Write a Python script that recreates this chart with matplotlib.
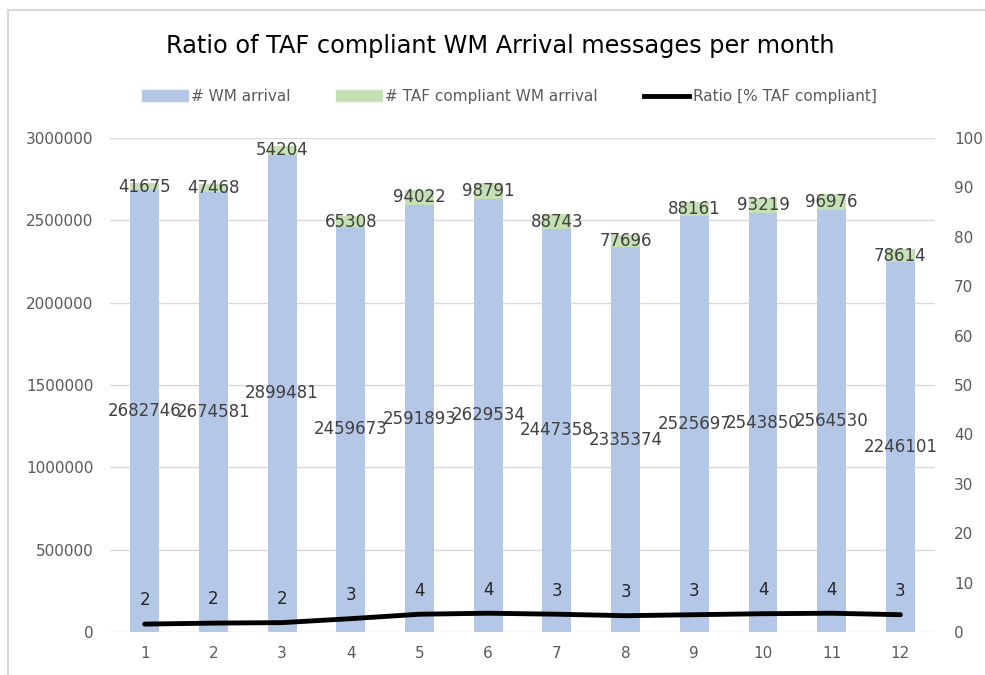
import matplotlib.pyplot as plt
from matplotlib.patches import Rectangle
from matplotlib.lines import Line2D
from matplotlib.ticker import StrMethodFormatter
import numpy as np

months = [1, 2, 3, 4, 5, 6, 7, 8, 9, 10, 11, 12]
wm_arrival = [2682746, 2674581, 2899481, 2459673, 2591893, 2629534,
              2447358, 2335374, 2525697, 2543850, 2564530, 2246101]
taf_compliant = [41675, 47468, 54204, 65308, 94022, 98791,
                 88743, 77696, 88161, 93219, 96976, 78614]
ratio = [1.6, 1.8, 1.9, 2.7, 3.6, 3.8, 3.6, 3.3, 3.5, 3.7, 3.8, 3.5]
ratio_labels = ['2', '2', '2', '3', '4', '4', '3', '3', '3', '4', '4', '3']

blue = '#B4C7E7'
green = '#C5E0B4'
label_col = '#404040'
tick_col = '#595959'

fig = plt.figure(figsize=(9.85, 6.75), dpi=100)
ax = fig.add_axes([0.112, 0.0637, 0.837, 0.7319])
ax2 = ax.twinx()

x = np.array(months)
ax.bar(x, wm_arrival, width=0.42, color=blue, zorder=2)
ax.bar(x, taf_compliant, width=0.42, bottom=wm_arrival, color=green, zorder=2)

for xi, w, t in zip(x, wm_arrival, taf_compliant):
    ax.text(xi, w / 2, str(w), ha='center', va='center', fontsize=12, color=label_col, zorder=3)
    ax.text(xi, w + t / 2, str(t), ha='center', va='center', fontsize=12, color=label_col, zorder=3)

ax.set_xlim(0.5, 12.5)
ax.set_ylim(0, 3000000)
ax.set_yticks(range(0, 3000001, 500000))
ax.yaxis.set_major_formatter(StrMethodFormatter('{x:.0f}'))
ax.set_xticks(months)
ax.grid(axis='y', color='#D9D9D9', linewidth=1, zorder=0)
ax.set_axisbelow(True)

ax2.plot(x, ratio, color='black', linewidth=3.5, solid_capstyle='round', zorder=4)
for xi, r, lab in zip(x, ratio, ratio_labels):
    ax2.annotate(lab, (xi, r), xytext=(0, 17), textcoords='offset points',
                 ha='center', va='center', fontsize=12, color='#262626')
ax2.set_ylim(0, 100)
ax2.set_yticks(range(0, 101, 10))

for a in (ax, ax2):
    for s in a.spines.values():
        s.set_visible(False)
    a.tick_params(length=0, labelsize=11, labelcolor=tick_col)
ax.tick_params(axis='y', pad=12)
ax.tick_params(axis='x', pad=10)
ax2.tick_params(axis='y', pad=14)
ax.set_zorder(1)
ax.patch.set_visible(False)
ax2.set_zorder(2)
ax2.patch.set_visible(False)

fig.text(0.508, 0.932, 'Ratio of TAF compliant WM Arrival messages per month',
         ha='center', va='center', fontsize=17.3, color='black')

handles = [Rectangle((0, 0), 1, 1, color=blue),
           Rectangle((0, 0), 1, 1, color=green),
           Line2D([0], [0], color='black', linewidth=3.5)]
fig.legend(handles, ['# WM arrival', '# TAF compliant WM arrival', 'Ratio [% TAF compliant]'],
           loc='center', bbox_to_anchor=(0.517, 0.857), ncol=3, frameon=False,
           fontsize=11, labelcolor=tick_col, handlelength=3, handletextpad=0.2,
           columnspacing=3)

fig.patches.append(Rectangle((8 / 985, -0.05), 1.1, (665 / 675) + 0.05,
                             transform=fig.transFigure, fill=False,
                             edgecolor='#D9D9D9', linewidth=1.5))

fig.savefig('out.png', dpi=100)
